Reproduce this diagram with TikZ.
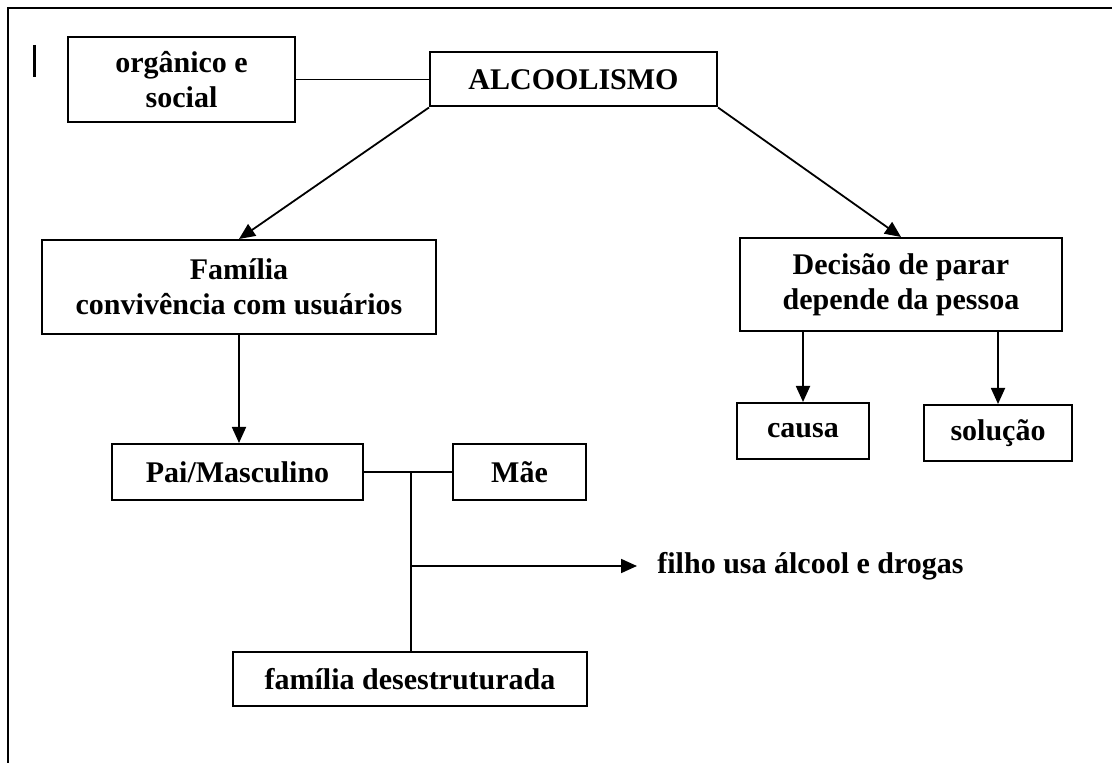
\documentclass[tikz,border=0pt]{standalone}
\usepackage{fontspec}
\setmainfont{Liberation Serif}
\usetikzlibrary{arrows.meta, positioning}

\begin{document}
\begin{tikzpicture}[
  x=0.5pt, y=-0.5pt,
  cbox/.style={draw, line width=1pt, align=center, inner sep=0pt, font=\fontsize{15}{17.5}\selectfont\bfseries},
  lbl/.style={inner xsep=10pt, inner ysep=0pt, font=\fontsize{15}{17.5}\selectfont\bfseries},
  link/.style={line width=0.9pt},
  arr/.style={line width=0.9pt, -{Triangle[length=8pt, width=7pt]}}
]
  \useasboundingbox (0,0) rectangle (1112,763);
  \draw[line width=1.3pt] (8,763) -- (8,8) -- (1112,8);
  \draw[line width=1.5pt] (34,45) -- (34,77);

  \node[cbox, minimum width=113.5pt, minimum height=42.5pt] (org) at (181.5,79.5) {orgânico e\\social};
  \node[cbox, minimum width=143.5pt, minimum height=27pt] (alc) at (573.5,79.5) {ALCOOLISMO};
  \node[cbox, minimum width=197pt, minimum height=47pt] (fam) at (239,287) {Família\\convivência com usuários};
  \node[cbox, minimum width=161pt, minimum height=46.5pt] (dec) at (901,284.5) {Decisão de parar\\depende da pessoa};
  \node[cbox, minimum width=66pt, minimum height=28pt] (causa) at (803,431) {causa};
  \node[cbox, minimum width=74pt, minimum height=28pt] (sol) at (998,433) {solução};
  \node[cbox, minimum width=125.5pt, minimum height=28pt] (pai) at (237.5,472) {Pai/Masculino};
  \node[cbox, minimum width=66.5pt, minimum height=28pt] (mae) at (519.5,472) {Mãe};
  \node[cbox, minimum width=177pt, minimum height=27pt] (desest) at (410,679) {família desestruturada};
  \node[lbl, anchor=west] (filho) at (637,566) {filho usa álcool e drogas};

  \coordinate (jn) at (411,472);
  \coordinate (br) at (411,566);

  \draw[link] (org.east) -- (alc.west);
  \draw[arr] (alc.south west) -- (fam.north);
  \draw[arr] (alc.south east) -- (dec.north);
  \draw[arr] (fam.south) -- (fam.south |- pai.north);
  \draw[arr] (causa.north |- dec.south) -- (causa.north);
  \draw[arr] (sol.north |- dec.south) -- (sol.north);
  \draw[link] (pai.east) -- (mae.west);
  \draw[link] (jn) -- (jn |- desest.north);
  \draw[arr] (br) -- (filho.west);
\end{tikzpicture}
\end{document}
